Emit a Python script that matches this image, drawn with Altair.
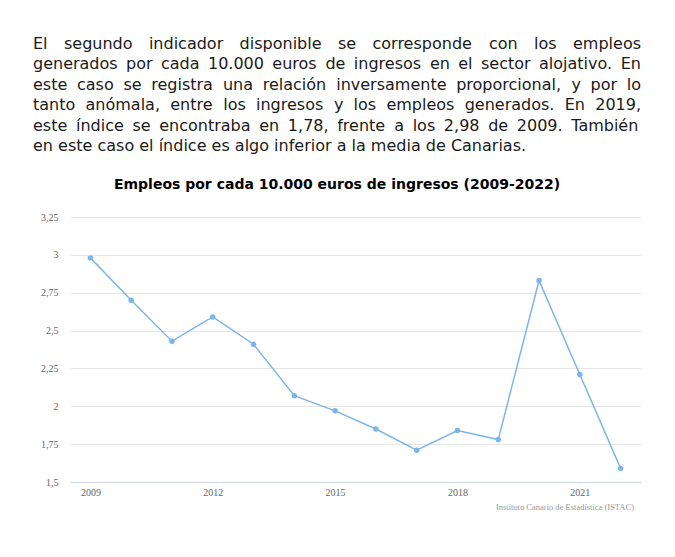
import altair as alt
import pandas as pd

years = [2009, 2010, 2011, 2012, 2013, 2014, 2015, 2016, 2017, 2018, 2019, 2020, 2021, 2022]
values = [2.98, 2.70, 2.43, 2.59, 2.41, 2.07, 1.97, 1.85, 1.71, 1.84, 1.78, 2.83, 2.21, 1.59]
x_tick_labels = [2009, 2012, 2015, 2018, 2021]
y_ticks = [1.5, 1.75, 2.0, 2.25, 2.5, 2.75, 3.0, 3.25]

paragraph = [
    "El segundo indicador disponible se corresponde con los empleos",
    "generados por cada 10.000 euros de ingresos en el sector alojativo. En",
    "este caso se registra una relación inversamente proporcional, y por lo",
    "tanto anómala, entre los ingresos y los empleos generados. En 2019,",
    "este índice se encontraba en 1,78, frente a los 2,98 de 2009. También",
    "en este caso el índice es algo inferior a la media de Canarias.",
]
title = "Empleos por cada 10.000 euros de ingresos (2009-2022)"
credits = "Instituto Canario de Estadística (ISTAC)"

df = pd.DataFrame({"year": years, "value": values})
one = pd.DataFrame({"k": [0]})

LINE = "#7cb5ec"
SERIF = "Liberation Serif"
SANS = "DejaVu Sans"

# ---- justified paragraph layout (DejaVu Sans advance widths, units/em = 2048)
ADV = {' ': 651, ',': 651, '.': 651, 'E': 1294, 'T': 1251, 'C': 1430,
       'a': 1255, 'b': 1300, 'c': 1126, 'd': 1300, 'e': 1260, 'f': 721, 'g': 1300,
       'h': 1298, 'i': 569, 'j': 569, 'k': 1186, 'l': 569, 'm': 1995, 'n': 1298,
       'o': 1253, 'p': 1300, 'q': 1300, 'r': 842, 's': 1067, 't': 803, 'u': 1298,
       'v': 1212, 'w': 1675, 'x': 1212, 'y': 1212, 'z': 1075,
       'á': 1255, 'é': 1260, 'í': 569, 'ó': 1253, 'ú': 1298}
FS = 16.0
LEFT, RIGHT = 33.0, 641.0
BASE0, LH = 49.0, 20.4
PLOT_X0, PLOT_Y0 = 70.0, 217.0


def wwidth(w):
    return sum(ADV.get(ch, 1303) for ch in w) / 2048.0 * FS


rows = []
for li, ln in enumerate(paragraph):
    words = ln.split(" ")
    widths = [wwidth(w) for w in words]
    if li < len(paragraph) - 1 and len(words) > 1:
        gap = (RIGHT - LEFT - sum(widths)) / (len(words) - 1)
    else:
        gap = wwidth(" ")
    x = LEFT
    for w, wd in zip(words, widths):
        rows.append({"word": w, "px": x - PLOT_X0, "py": BASE0 + li * LH - PLOT_Y0})
        x += wd + gap
words_df = pd.DataFrame(rows)

x_enc = alt.X(
    "year:O",
    scale=alt.Scale(type="point", padding=0.5),
    axis=alt.Axis(
        values=x_tick_labels, labelAngle=0, ticks=False, title=None,
        domainColor="#ccd6eb", domainWidth=1, labelFont=SERIF, labelFontSize=10,
        labelColor="#666666", labelPadding=5, grid=False,
    ),
)
y_enc = alt.Y(
    "value:Q",
    scale=alt.Scale(domain=[1.5, 3.25], nice=False, zero=False),
    axis=alt.Axis(
        values=y_ticks, title=None, domain=False, ticks=False, grid=True,
        gridColor="#e6e6e6", labelFont=SERIF, labelFontSize=10, labelColor="#666666",
        labelPadding=12, labelOverlap=False,
        labelExpr="replace(format(datum.value, '.2~f'), '.', ',')",
    ),
)

base = alt.Chart(df)
line = base.mark_line(color=LINE, strokeWidth=1.5).encode(x=x_enc, y=y_enc)
pts = base.mark_circle(color=LINE, size=30, opacity=1).encode(x=x_enc, y=y_enc)
plot = alt.layer(line, pts)

para = alt.Chart(words_df).mark_text(
    align="left", baseline="alphabetic", font=SANS, fontSize=FS, color="#1a1a1a",
).encode(
    x=alt.X("px:Q", scale=None, axis=None),
    y=alt.Y("py:Q", scale=None, axis=None),
    text="word:N",
)

ttl = alt.Chart(one).mark_text(
    align="center", baseline="middle", font=SANS, fontSize=14,
    fontWeight="bold", color="#000000",
).encode(x=alt.value(267), y=alt.value(-32), text=alt.value(title))

cred = alt.Chart(one).mark_text(
    align="right", baseline="middle", font=SERIF, fontSize=8.5, color="#999999",
).encode(x=alt.value(564), y=alt.value(290), text=alt.value(credits))

chart = alt.layer(plot, para, ttl, cred).resolve_scale(
    x="independent", y="independent"
).properties(
    width=571, height=265,
    autosize=alt.AutoSizeParams(type="none"),
    padding={"left": 70, "top": 217, "right": 34, "bottom": 75},
    background="white",
).configure_view(stroke=None)

chart.save("out.html", embed_options={"renderer": "svg", "actions": False})
